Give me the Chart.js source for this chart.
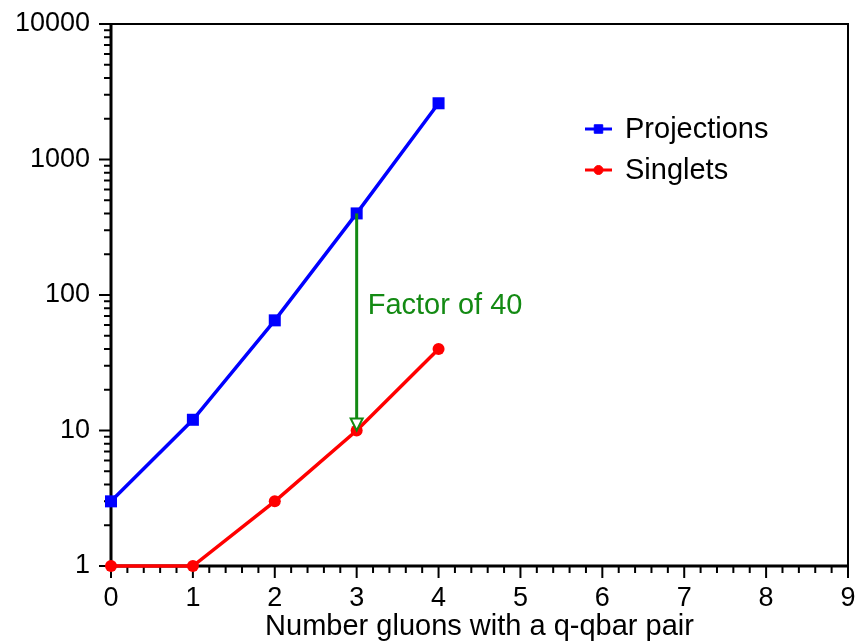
<!DOCTYPE html>
<html>
<head>
<meta charset="utf-8">
<script src="https://cdn.jsdelivr.net/npm/chart.js@4.4.0/dist/chart.umd.min.js"></script>
<style>
  html, body { margin: 0; padding: 0; background: #fff; }
  #wrap { width: 858px; height: 644px; }
</style>
</head>
<body>
<div id="wrap"><canvas id="gluonChart" width="858" height="644"></canvas></div>
<script>
const gluons = [0, 1, 2, 3, 4];
const projections = [3, 12, 65, 400, 2600];
const singlets = [1, 1, 3, 10, 40];
const yDecades = [1, 10, 100, 1000, 10000];

// arrow showing the gap between the two series at n = 3
const arrowX = 3;
const arrowFrom = 400;
const arrowTo = 10;
const arrowLabel = 'Factor of 40';
const arrowLabelY = 83;

const FONT = "'Liberation Sans', Arial, Helvetica, sans-serif";
const GREEN = '#138a13';

function toPoints(values) {
    return gluons.map((g, i) => ({ x: g, y: values[i] }));
}

// box, tick marks (major + minor) drawn under the data
const framePlugin = {
    id: 'frame',
    beforeDatasetsDraw(chart) {
        const { ctx, chartArea: a, scales: { x, y } } = chart;
        ctx.save();
        ctx.strokeStyle = '#000';
        ctx.lineCap = 'butt';

        // top + right edges
        ctx.lineWidth = 2;
        ctx.beginPath();
        ctx.moveTo(a.left, a.top);
        ctx.lineTo(a.right, a.top);
        ctx.lineTo(a.right, a.bottom);
        ctx.stroke();

        // x ticks every 0.2
        ctx.lineWidth = 2;
        ctx.beginPath();
        for (let i = 0; i <= 45; i++) {
            const px = x.getPixelForValue(i / 5);
            const len = i % 5 === 0 ? 12 : 7;
            ctx.moveTo(px, a.bottom);
            ctx.lineTo(px, a.bottom + len);
        }
        // y ticks at 1..9 of each decade
        for (let d = 0; d < yDecades.length; d++) {
            for (let m = 1; m <= 9; m++) {
                const v = yDecades[d] * m;
                if (v > yDecades[yDecades.length - 1]) break;
                const py = y.getPixelForValue(v);
                const len = m === 1 ? 12 : 7;
                ctx.moveTo(a.left, py);
                ctx.lineTo(a.left - len, py);
            }
        }
        ctx.stroke();

        // left + bottom axes
        ctx.lineWidth = 3;
        ctx.beginPath();
        ctx.moveTo(a.left, a.top - 1);
        ctx.lineTo(a.left, a.bottom);
        ctx.lineTo(a.right + 1, a.bottom);
        ctx.stroke();
        ctx.restore();
    },
    afterDatasetsDraw(chart) {
        const { ctx, scales: { x, y } } = chart;
        const ax = x.getPixelForValue(arrowX);
        const y1 = y.getPixelForValue(arrowFrom);
        const y2 = y.getPixelForValue(arrowTo);
        const head = 12;
        ctx.save();
        ctx.strokeStyle = GREEN;
        ctx.lineWidth = 3;
        ctx.beginPath();
        ctx.moveTo(ax, y1);
        ctx.lineTo(ax, y2 - head);
        ctx.stroke();
        ctx.lineWidth = 2;
        ctx.fillStyle = '#fff';
        ctx.beginPath();
        ctx.moveTo(ax - 6, y2 - head);
        ctx.lineTo(ax + 6, y2 - head);
        ctx.lineTo(ax, y2);
        ctx.closePath();
        ctx.fill();
        ctx.stroke();

        ctx.fillStyle = GREEN;
        ctx.font = '29px ' + FONT;
        ctx.textAlign = 'left';
        ctx.textBaseline = 'middle';
        ctx.fillText(arrowLabel, ax + 11, y.getPixelForValue(arrowLabelY));
        ctx.restore();
    },
    afterDraw(chart) {
        // legend: line with marker, then the label
        const { ctx, chartArea: a } = chart;
        const lx = a.left + 474;
        ctx.save();
        chart.data.datasets.forEach((ds, i) => {
            const ly = a.top + 105 + i * 41;
            ctx.strokeStyle = ds.borderColor;
            ctx.fillStyle = ds.backgroundColor;
            ctx.lineWidth = 3;
            ctx.beginPath();
            ctx.moveTo(lx, ly);
            ctx.lineTo(lx + 27, ly);
            ctx.stroke();
            ctx.lineWidth = 1;
            Chart.helpers.drawPoint(ctx, {
                pointStyle: ds.pointStyle,
                radius: ds.pointStyle === 'rect' ? 6 : 4.5,
                rotation: 0,
                borderWidth: 1
            }, lx + 13.5, ly);
            ctx.fillStyle = '#000';
            ctx.font = '29px ' + FONT;
            ctx.textAlign = 'left';
            ctx.textBaseline = 'middle';
            ctx.fillText(ds.label, lx + 40, ly + 1);
        });
        ctx.restore();
    }
};

const chart = new Chart(document.getElementById('gluonChart'), {
    type: 'line',
    data: {
        datasets: [
            {
                label: 'Projections',
                data: toPoints(projections),
                borderColor: '#0000ff',
                backgroundColor: '#0000ff',
                borderWidth: 3.5,
                pointStyle: 'rect',
                pointRadius: 8.5,
                pointBorderWidth: 0,
                tension: 0,
                clip: false
            },
            {
                label: 'Singlets',
                data: toPoints(singlets),
                borderColor: '#ff0000',
                backgroundColor: '#ff0000',
                borderWidth: 3.5,
                pointStyle: 'circle',
                pointRadius: 6,
                pointBorderWidth: 0,
                tension: 0,
                clip: false
            }
        ]
    },
    options: {
        responsive: false,
        animation: false,
        events: [],
        layout: { padding: { top: 24, right: 10, left: 0, bottom: 0 } },
        plugins: {
            legend: { display: false },
            tooltip: { enabled: false }
        },
        scales: {
            x: {
                type: 'linear',
                min: 0,
                max: 9,
                grid: { display: false, drawTicks: false, tickLength: 0 },
                border: { display: false },
                ticks: {
                    stepSize: 1,
                    padding: 16,
                    color: '#000',
                    font: { family: FONT, size: 27 },
                    maxRotation: 0
                },
                title: {
                    display: true,
                    text: 'Number gluons with a q-qbar pair',
                    color: '#000',
                    font: { family: FONT, size: 29 },
                    padding: { top: 0, bottom: 0 }
                },
                afterFit(scale) {
                    scale.height = 78;
                    scale.paddingLeft = 0;
                    scale.paddingRight = 0;
                }
            },
            y: {
                type: 'logarithmic',
                min: 1,
                max: 10000,
                grid: { display: false, drawTicks: false, tickLength: 0 },
                border: { display: false },
                ticks: {
                    padding: 21,
                    color: '#000',
                    font: { family: FONT, size: 27 },
                    callback: (v) => String(v)
                },
                afterBuildTicks(scale) {
                    scale.ticks = yDecades.map(v => ({ value: v, major: true }));
                },
                afterFit(scale) {
                    scale.width = 111;
                    scale.paddingTop = 0;
                    scale.paddingBottom = 0;
                }
            }
        }
    },
    plugins: [framePlugin]
});
</script>
</body>
</html>
